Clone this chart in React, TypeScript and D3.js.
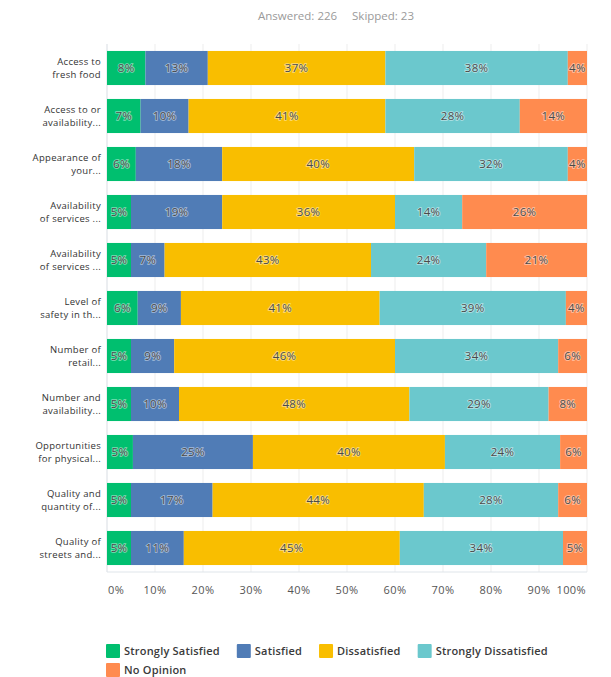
import { useEffect, useRef } from "react";
import * as d3 from "d3";

const WIDTH = 611;
const HEIGHT = 677;

const series = [
  "Strongly Satisfied",
  "Satisfied",
  "Dissatisfied",
  "Strongly Dissatisfied",
  "No Opinion",
];
const seriesColors = ["#00bf6f", "#507cb6", "#f9be00", "#6bc8cd", "#ff8b4f"];

const categoryLines: [string, string][] = [
  ["Access to", "fresh food"],
  ["Access to or", "availability..."],
  ["Appearance of", "your..."],
  ["Availability", "of services ..."],
  ["Availability", "of services ..."],
  ["Level of", "safety in th..."],
  ["Number of", "retail..."],
  ["Number and", "availability..."],
  ["Opportunities", "for physical..."],
  ["Quality and", "quantity of..."],
  ["Quality of", "streets and..."],
];

// percentages per row: strongly satisfied, satisfied, dissatisfied, strongly dissatisfied, no opinion
const values: number[][] = [
  [8, 13, 37, 38, 4],
  [7, 10, 41, 28, 14],
  [6, 18, 40, 32, 4],
  [5, 19, 36, 14, 26],
  [5, 7, 43, 24, 21],
  [6.4, 9, 41.4, 38.8, 4.4],
  [5, 9, 46, 34, 6],
  [5, 10, 48, 29, 8],
  [5.4, 25, 40, 24, 5.6],
  [5, 17, 44, 28, 6],
  [5, 11, 45, 34, 5],
];

const xTicks = [0, 10, 20, 30, 40, 50, 60, 70, 80, 90, 100];

const answered = 226;
const skipped = 23;

const FONT = "'Open Sans', 'DejaVu Sans', sans-serif";

export default function App() {
  const ref = useRef<SVGSVGElement>(null);

  useEffect(() => {
    const svg = d3.select(ref.current);
    svg.selectAll("*").remove();

    const margin = { top: 44, right: 24, bottom: 105, left: 107 };

    const x = d3
      .scaleLinear()
      .domain([0, 100])
      .range([margin.left, WIDTH - margin.right]);

    const y = d3
      .scaleBand<number>()
      .domain(d3.range(values.length))
      .range([margin.top, HEIGHT - margin.bottom])
      .paddingInner(0.29)
      .paddingOuter(0.145);

    // header
    svg
      .append("text")
      .attr("x", 258)
      .attr("y", 20)
      .attr("font-family", FONT)
      .attr("font-size", 11.5)
      .attr("fill", "#9a9a9a")
      .attr("xml:space", "preserve")
      .text(`Answered: ${answered}     Skipped: ${skipped}`);

    // gridlines
    svg
      .append("g")
      .selectAll("line")
      .data(xTicks.slice(1))
      .join("line")
      .attr("x1", (d) => x(d))
      .attr("x2", (d) => x(d))
      .attr("y1", margin.top)
      .attr("y2", HEIGHT - margin.bottom)
      .attr("stroke", "#ededed");

    svg
      .append("line")
      .attr("x1", x(0))
      .attr("x2", x(0))
      .attr("y1", margin.top)
      .attr("y2", HEIGHT - margin.bottom)
      .attr("stroke", "#d8dde3");

    svg
      .append("line")
      .attr("x1", x(0))
      .attr("x2", x(100))
      .attr("y1", HEIGHT - margin.bottom)
      .attr("y2", HEIGHT - margin.bottom)
      .attr("stroke", "#dfe5ea");

    // stacked bars
    const rows = values.map((row, i) => {
      let start = 0;
      return row.map((v, j) => {
        const seg = { row: i, series: j, value: v, start, end: start + v };
        start += v;
        return seg;
      });
    });

    const rowG = svg
      .append("g")
      .selectAll("g")
      .data(rows)
      .join("g")
      .attr("transform", (_, i) => `translate(0,${y(i)})`);

    rowG
      .selectAll("rect")
      .data((d) => d)
      .join("rect")
      .attr("x", (d) => x(d.start))
      .attr("width", (d) => x(d.end) - x(d.start))
      .attr("y", 0)
      .attr("height", y.bandwidth())
      .attr("fill", (d) => seriesColors[d.series]);

    rowG
      .selectAll("text")
      .data((d) => d)
      .join("text")
      .attr("x", (d) => (x(d.start) + x(d.end)) / 2)
      .attr("y", y.bandwidth() / 2)
      .attr("dy", "0.35em")
      .attr("text-anchor", "middle")
      .attr("font-family", FONT)
      .attr("font-size", 11.5)
      .attr("letter-spacing", 0.3)
      .attr("fill", "#4a4a4a")
      .attr("stroke", "rgba(255,255,255,0.5)")
      .attr("stroke-width", 1.6)
      .attr("paint-order", "stroke")
      .text((d) => `${Math.round(d.value)}%`);

    // category labels, two lines each
    const lineGap = 13;
    svg
      .append("g")
      .selectAll("g")
      .data(categoryLines)
      .join("g")
      .attr(
        "transform",
        (_, i) => `translate(${margin.left - 6},${(y(i) ?? 0) + y.bandwidth() / 2})`,
      )
      .selectAll("text")
      .data((d) => d)
      .join("text")
      .attr("y", (_, k) => (k === 0 ? -lineGap / 2 : lineGap / 2))
      .attr("dy", "0.35em")
      .attr("text-anchor", "end")
      .attr("font-family", FONT)
      .attr("font-size", 9.5)
      .attr("letter-spacing", 0.3)
      .attr("fill", "#333")
      .text((d) => d);

    // x tick labels
    svg
      .append("g")
      .selectAll("text")
      .data(xTicks)
      .join("text")
      .attr("x", (d) => x(d))
      .attr("dx", (d) => (d === 0 ? 1 : d === 100 ? -1 : 0))
      .attr("y", HEIGHT - margin.bottom + 22)
      .attr("text-anchor", (d) =>
        d === 0 ? "start" : d === 100 ? "end" : "middle",
      )
      .attr("font-family", FONT)
      .attr("font-size", 11)
      .attr("letter-spacing", 0.4)
      .attr("fill", "#555")
      .text((d) => `${d}%`);

    // legend with wrapping
    const legend = svg.append("g");
    const legendLeft = 106;
    const legendRight = 590;
    const swatch = 14;
    let lx = legendLeft;
    let ly = 644;
    series.forEach((name, i) => {
      const item = legend.append("g");
      item
        .append("rect")
        .attr("width", swatch)
        .attr("height", swatch)
        .attr("rx", 1)
        .attr("fill", seriesColors[i]);
      const t = item
        .append("text")
        .attr("x", swatch + 4)
        .attr("y", swatch / 2)
        .attr("dy", "0.35em")
        .attr("font-family", FONT)
        .attr("font-size", 11)
        .attr("font-weight", 600)
        .attr("letter-spacing", 0.2)
        .attr("fill", "#3a3a3a")
        .text(name);
      const w = swatch + 4 + (t.node()?.getComputedTextLength() ?? 0);
      if (lx + w > legendRight && lx > legendLeft) {
        lx = legendLeft;
        ly += 19;
      }
      item.attr("transform", `translate(${lx},${ly})`);
      lx += w + 17;
    });
  }, []);

  return (
    <svg
      ref={ref}
      width={WIDTH}
      height={HEIGHT}
      style={{ position: "absolute", left: 0, top: 0, background: "#fff" }}
    />
  );
}
